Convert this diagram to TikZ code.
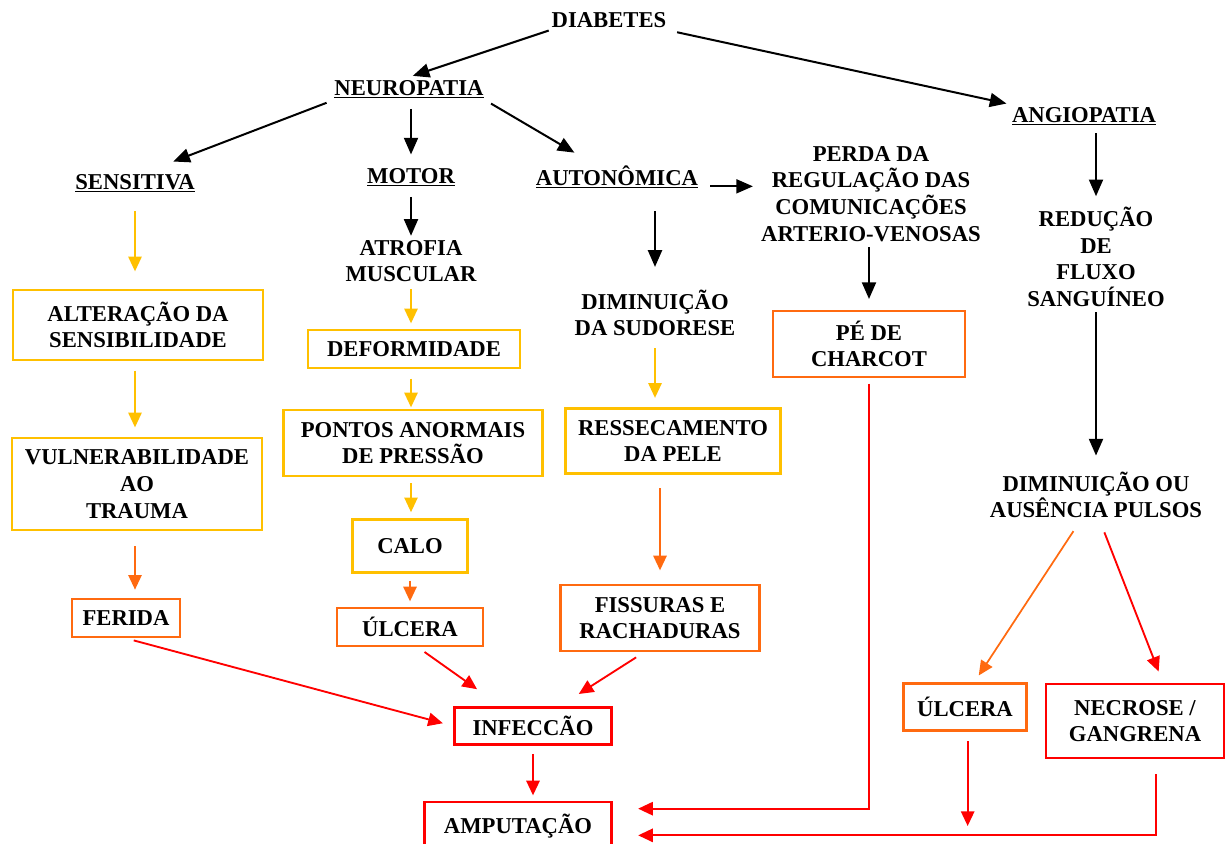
\documentclass[tikz,border=0pt]{standalone}
\usepackage{fontspec}
\setmainfont{Liberation Serif}
\usetikzlibrary{arrows.meta}
\definecolor{boxyellow}{HTML}{FFC000}
\definecolor{boxorange}{HTML}{FF6A10}
\definecolor{boxred}{HTML}{FF0000}
\newcommand*{\PX}{0.75pt}
\tikzset{
  celltext/.style={font=\fontsize{17}{20}\selectfont\bfseries, align=center, inner sep=2pt},
  cellbox/.style n args={3}{celltext, draw=#1, line width=2pt, inner sep=0pt,
    minimum width=#2*\PX, minimum height=#3*\PX},
  blackarrow/.style={-{Triangle[length=12.5pt,width=10.5pt]}, line width=1.5pt, black},
  yellowarrow/.style={-{Triangle[length=11pt,width=10pt]}, line width=1.2pt, boxyellow},
  orangearrow/.style={-{Triangle[length=11pt,width=10pt]}, line width=1.3pt, boxorange},
  redarrow/.style={-{Triangle[length=11pt,width=10pt]}, line width=1.4pt, boxred}
}

\begin{document}
\begin{tikzpicture}[x=\PX, y=-\PX]
    \useasboundingbox (0,0) rectangle (1227,843);

    \node [celltext] (dia) at (609,20) {DIABETES};
    \node [celltext] (neu) at (409,89) {\underline{NEUROPATIA}};
    \node [celltext] (ang) at (1084,116) {\underline{ANGIOPATIA}};
    \node [celltext] (sen) at (135,183) {\underline{SENSITIVA}};
    \node [celltext] (mot) at (411,177) {\underline{MOTOR}};
    \node [celltext] (aut) at (617,177) {\underline{AUTONÔMICA}};
    \node [celltext] (per) at (871,194) {PERDA DA\\REGULAÇÃO DAS\\COMUNICAÇÕES\\ARTERIO-VENOSAS};
    \node [celltext] (atr) at (411,261) {ATROFIA\\MUSCULAR};
    \node [celltext] (dsu) at (655,313) {DIMINUIÇÃO\\DA SUDORESE};
    \node [celltext] (red) at (1096,257) {REDUÇÃO\\DE\\FLUXO\\SANGUÍNEO};
    \node [celltext] (dou) at (1096,495) {DIMINUIÇÃO OU\\AUSÊNCIA PULSOS};

    \node [cellbox={boxyellow}{250}{70}] (alt) at (138,325) {ALTERAÇÃO DA\\SENSIBILIDADE};
    \node [cellbox={boxyellow}{250}{92}] (vul) at (137,484) {VULNERABILIDADE\\AO\\TRAUMA};
    \node [cellbox={boxorange}{108}{38}] (fer) at (126,618) {FERIDA};
    \node [cellbox={boxyellow}{212}{38}] (def) at (414,349) {DEFORMIDADE};
    \node [cellbox={boxyellow}{259}{66}] (pon) at (413,443) {PONTOS ANORMAIS\\DE PRESSÃO};
    \node [cellbox={boxyellow}{115}{53}] (cal) at (410,546) {CALO};
    \node [cellbox={boxorange}{146}{38}] (ulcl) at (410,627) {ÚLCERA};
    \node [cellbox={boxyellow}{215}{65}] (res) at (673,441) {RESSECAMENTO\\DA PELE};
    \node [cellbox={boxorange}{199}{66}] (fis) at (660,618) {FISSURAS E\\RACHADURAS};
    \node [cellbox={boxorange}{192}{66}] (pe) at (869,344) {PÉ DE\\CHARCOT};
    \node [cellbox={boxred}{157}{37}] (inf) at (533,726) {INFECCÃO};
    \node [cellbox={boxred}{187}{48}] (amp) at (518,826) {AMPUTAÇÃO};
    \node [cellbox={boxorange}{123}{47}] (ulcr) at (965,707) {ÚLCERA};
    \node [cellbox={boxred}{178}{74}] (nec) at (1135,721) {NECROSE /\\GANGRENA};

    % ends of the two lines into AMPUTACAO
    \coordinate (highline) at ([yshift=13pt]amp.east);
    \coordinate (lowline) at ([yshift=-7pt]amp.east);

    % black
    \draw[blackarrow, shorten >=3pt] (dia.south west) -- (neu.north);
    \draw[blackarrow, shorten <=6pt, shorten >=2pt] (dia.south east) -- (ang.north west);
    \draw[blackarrow, shorten <=4pt, shorten >=20pt] (neu.south west) -- ([xshift=10pt]sen.north);
    \draw[blackarrow, shorten <=6pt, shorten >=8pt] (neu.south -| mot.north) -- (mot.north);
    \draw[blackarrow, shorten <=4pt, shorten >=15pt] (neu.south east) -- ([xshift=-19pt]aut.north);
    \draw[blackarrow, shorten <=7pt, shorten >=4pt] ([yshift=-7pt]aut.east) -- ([yshift=-7pt]aut.east -| per.west);
    \draw[blackarrow, shorten <=6pt, shorten >=1pt] (mot.south) -- (mot.south |- atr.north);
    \draw[blackarrow, shorten <=15pt, shorten >=15pt] (aut.south -| dsu.north) -- (dsu.north);
    \draw[blackarrow, shorten <=2pt, shorten >=8pt] (per.south -| pe.north) -- (pe.north);
    \draw[blackarrow, shorten <=4pt, shorten >=6pt] (ang.south -| red.north) -- (red.north);
    \draw[blackarrow, shorten <=2pt, shorten >=10pt] (red.south) -- (dou.north);

    % yellow
    \draw[yellowarrow, shorten <=12pt, shorten >=13pt] (sen.south) -- (sen.south |- alt.north);
    \draw[yellowarrow, shorten <=7pt, shorten >=7pt] (alt.south -| sen.south) -- (sen.south |- vul.north);
    \draw[yellowarrow, shorten <=3pt, shorten >=4pt] (atr.south) -- (atr.south |- def.north);
    \draw[yellowarrow, shorten <=7pt, shorten >=1pt] (def.south -| atr.south) -- (atr.south |- pon.north);
    \draw[yellowarrow, shorten <=4.5pt, shorten >=4.5pt] (pon.south -| atr.south) -- (atr.south |- cal.north);
    \draw[yellowarrow, shorten <=7pt, shorten >=7pt] (dsu.south) -- (dsu.south |- res.north);

    % orange
    \draw[orangearrow, shorten <=11pt, shorten >=6pt] (vul.south -| sen.south) -- (sen.south |- fer.north);
    \draw[orangearrow, shorten <=5pt, shorten >=4pt] (cal.south) -- (ulcl.north);
    \draw[orangearrow, shorten <=10pt, shorten >=10pt] (res.south -| fis.north) -- (fis.north);
    \draw[orangearrow, shorten <=9pt, shorten >=6pt] ([xshift=-12pt]dou.south) -- ([xshift=7pt]ulcr.north);

    % red
    \draw[redarrow, shorten <=6pt, shorten >=8pt] (fer.south) -- (inf.west);
    \draw[redarrow, shorten <=6pt, shorten >=22pt] ([xshift=6pt]ulcl.south) -- ([xshift=-24pt]inf.north);
    \draw[redarrow, shorten <=7pt, shorten >=17pt] ([xshift=-12pt]fis.south) -- ([xshift=20pt]inf.north);
    \draw[redarrow, shorten <=6pt, shorten >=4pt] (inf.south) -- (inf.south |- amp.north);
    \draw[redarrow, shorten <=4pt, shorten >=19pt] (pe.south) |- (highline);
    \draw[redarrow, shorten <=11pt, shorten >=19pt] ([xshift=16pt]nec.south) |- (lowline);
    \draw[redarrow, shorten <=7pt, shorten >=7pt] ([xshift=2pt]ulcr.south) -- ([xshift=2pt]ulcr.south |- lowline);
    \draw[redarrow, shorten <=9pt, shorten >=9pt] ([xshift=3pt]dou.south) -- ([xshift=21pt]nec.north);
\end{tikzpicture}
\end{document}
